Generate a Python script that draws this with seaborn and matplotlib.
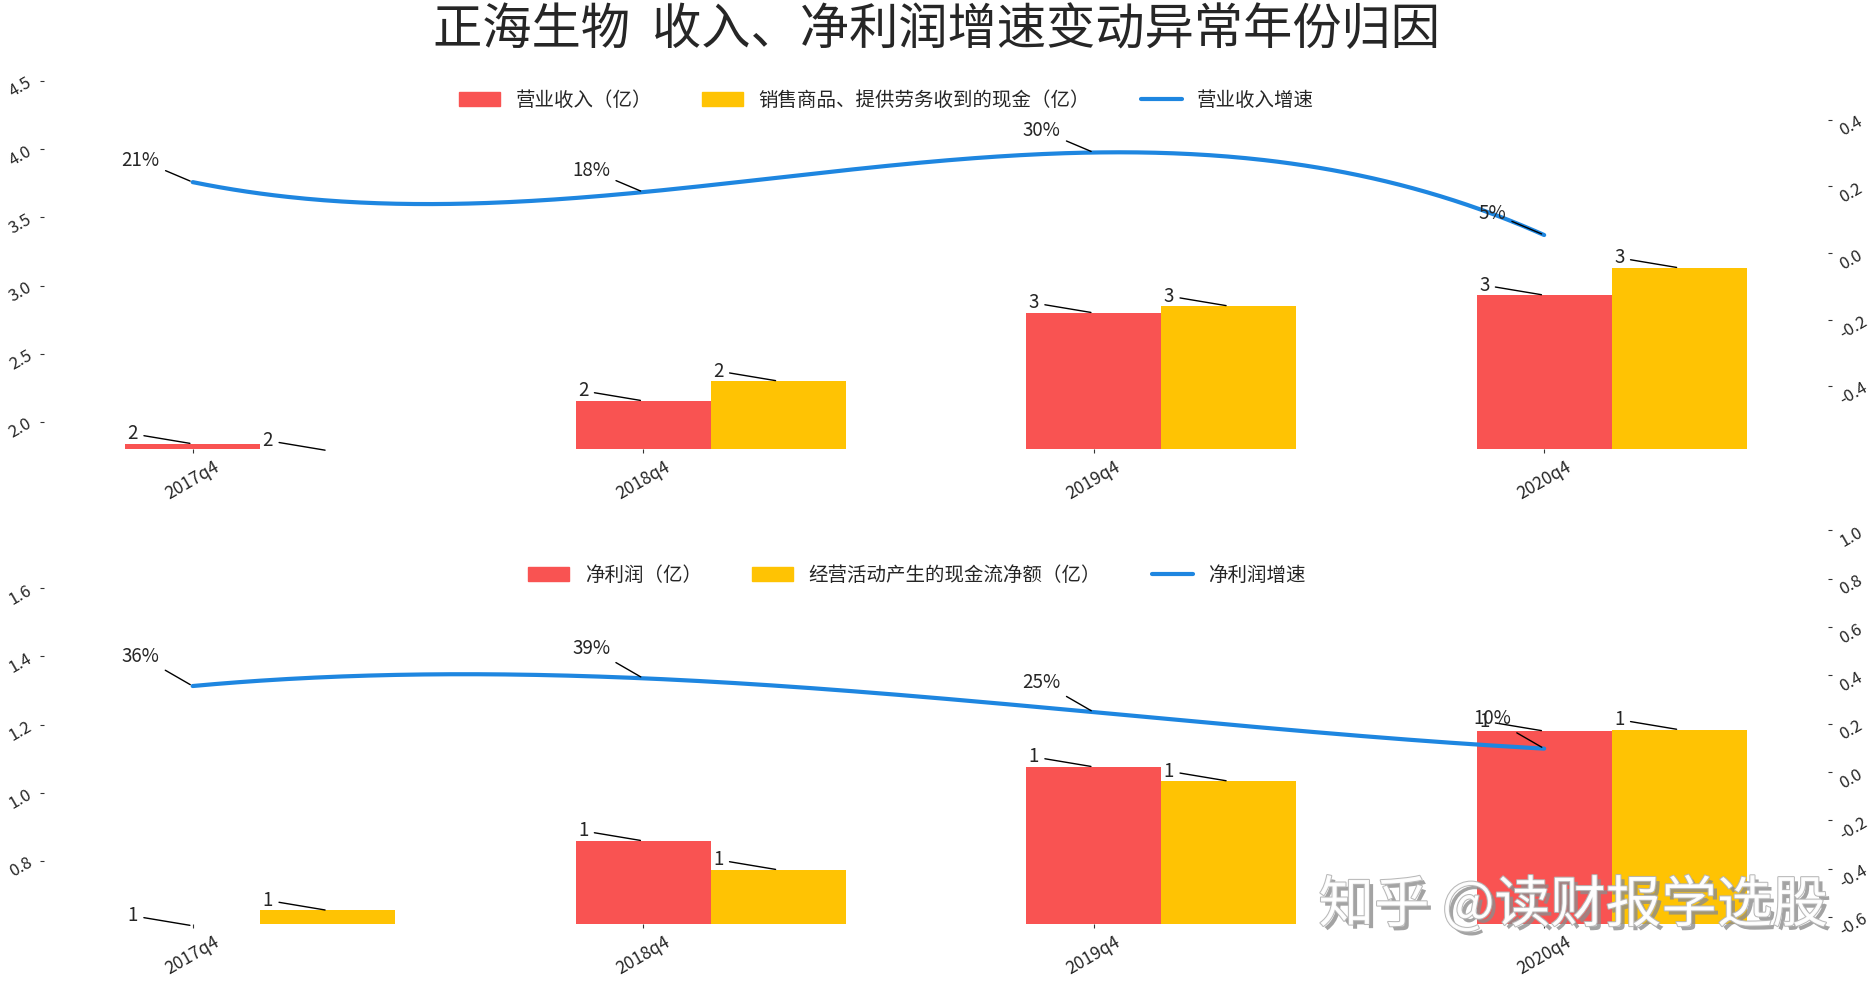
import numpy as np
import matplotlib
matplotlib.use("Agg")
import matplotlib.pyplot as plt
import seaborn as sns
import matplotlib.patheffects as pe
from matplotlib.patches import Patch
from matplotlib.lines import Line2D
from matplotlib.ticker import MultipleLocator

# ---------------- data ----------------
periods = ["2017q4", "2018q4", "2019q4", "2020q4"]

revenue = [1.84, 2.155, 2.80, 2.93]                 # 营业收入（亿）
cash_from_sales = [1.79, 2.30, 2.85, 3.13]          # 销售商品、提供劳务收到的现金（亿）
revenue_growth = [0.213, 0.183, 0.302, 0.054]       # 营业收入增速

net_profit = [0.61, 0.859, 1.076, 1.181]            # 净利润（亿）
operating_cash_flow = [0.655, 0.774, 1.034, 1.185]  # 经营活动产生的现金流净额（亿）
profit_growth = [0.356, 0.388, 0.248, 0.097]        # 净利润增速

title = "正海生物  收入、净利润增速变动异常年份归因"
top_labels = ["营业收入（亿）", "销售商品、提供劳务收到的现金（亿）", "营业收入增速"]
bottom_labels = ["净利润（亿）", "经营活动产生的现金流净额（亿）", "净利润增速"]
watermark = "知乎 @读财报学选股"

# ---------------- style ----------------
sns.set_style("ticks")
plt.rcParams["font.family"] = ["Noto Sans CJK SC", "DejaVu Sans"]
plt.rcParams["axes.unicode_minus"] = False

RED = "#F95352"
GOLD = "#FFC303"
BLUE = "#1E86E0"

W, H = 1876, 981
fig = plt.figure(figsize=(W / 100, H / 100), dpi=100)

left = 44 / W
width = (1828 - 44) / W
pos_top = [left, 1 - 449 / H, width, (449 - 58) / H]
pos_bot = [left, 1 - 923.6 / H, width, (923.6 - 527) / H]

x = np.arange(len(periods))
bw = 0.3


def panel(pos, bars1, bars2, growth, ylim_l, ylim_r, step_l, text_dy):
    ax = fig.add_axes(pos)
    ax.bar(x, bars1, width=bw, color=RED, edgecolor="none", linewidth=0,
           zorder=2)
    ax.bar(x + bw, bars2, width=bw, color=GOLD, edgecolor="none",
           linewidth=0, zorder=2)
    ax.set_xlim(-0.33, 3.63)
    ax.set_ylim(*ylim_l)
    ax.yaxis.set_major_locator(MultipleLocator(step_l))
    ax.set_xticks(x)
    ax.set_xticklabels(periods)

    ax2 = ax.twinx()
    xs = np.linspace(0, len(periods) - 1, 300)
    coef = np.polyfit(x, growth, 3)
    sns.lineplot(x=xs, y=np.polyval(coef, xs), ax=ax2, color=BLUE,
                 linewidth=3, legend=False)
    ax2.set_ylim(*ylim_r)
    ax2.yaxis.set_major_locator(MultipleLocator(0.2))
    ax2.set_xlim(-0.33, 3.63)

    for a in (ax, ax2):
        for s in a.spines.values():
            s.set_visible(False)
        a.tick_params(axis="y", labelrotation=30, length=3, width=0.8,
                      labelsize=12, color="#333333")
        a.set_xlabel("")
        a.set_ylabel("")
    ax.tick_params(axis="x", labelrotation=30, length=3, width=0.8,
                   labelsize=12.5, color="#333333")

    arrow = dict(arrowstyle="-", color="black", lw=1)
    for xi, v in zip(x, bars1):
        ax.annotate(f"{v:.0f}", xy=(xi, v), xytext=(-60, 10),
                    textcoords="offset pixels", ha="center", va="center",
                    fontsize=13.5, arrowprops=arrow, annotation_clip=False,
                    zorder=5)
    for xi, v in zip(x, bars2):
        ax.annotate(f"{v:.0f}", xy=(xi + bw, v), xytext=(-60, 10),
                    textcoords="offset pixels", ha="center", va="center",
                    fontsize=13.5, arrowprops=arrow, annotation_clip=False,
                    zorder=5)
    for xi, v in zip(x, growth):
        ax2.annotate(f"{v * 100:.0f}%", xy=(xi, v), xytext=(-52, text_dy),
                     textcoords="offset pixels", ha="center", va="center",
                     fontsize=13.5, arrowprops=arrow, annotation_clip=False)
    return ax, ax2


panel(pos_top, revenue, cash_from_sales, revenue_growth,
      (1.802, 4.669), (-0.589, 0.586), 0.5, 22)
panel(pos_bot, net_profit, operating_cash_flow, profit_growth,
      (0.6164, 1.7795), (-0.627, 1.014), 0.2, 30)


def make_legend(labels, cx, cy):
    handles = [Patch(color=RED), Patch(color=GOLD),
               Line2D([], [], color=BLUE, linewidth=3)]
    fig.legend(handles, labels, loc="center",
               bbox_to_anchor=(cx / W, 1 - cy / H), ncol=3, frameon=False,
               fontsize=14, columnspacing=2.6, handlelength=2.1,
               handletextpad=0.8)


make_legend(top_labels, 886.5, 100)
make_legend(bottom_labels, 917, 575)

fig.text(0.499, 1 - 30 / H, title, ha="center", va="center", fontsize=35.5,
         fontweight="medium")

fig.text(1573 / W, 1 - 906 / H, watermark, ha="center", va="center",
         fontsize=40, color="white", alpha=0.95, zorder=10,
         path_effects=[pe.SimplePatchShadow(offset=(3, -3),
                                            shadow_rgbFace="#8c8c8c",
                                            alpha=0.8),
                       pe.Stroke(linewidth=1.5, foreground="#b5b5b5"),
                       pe.Normal()])

fig.savefig("out.png", dpi=100)
